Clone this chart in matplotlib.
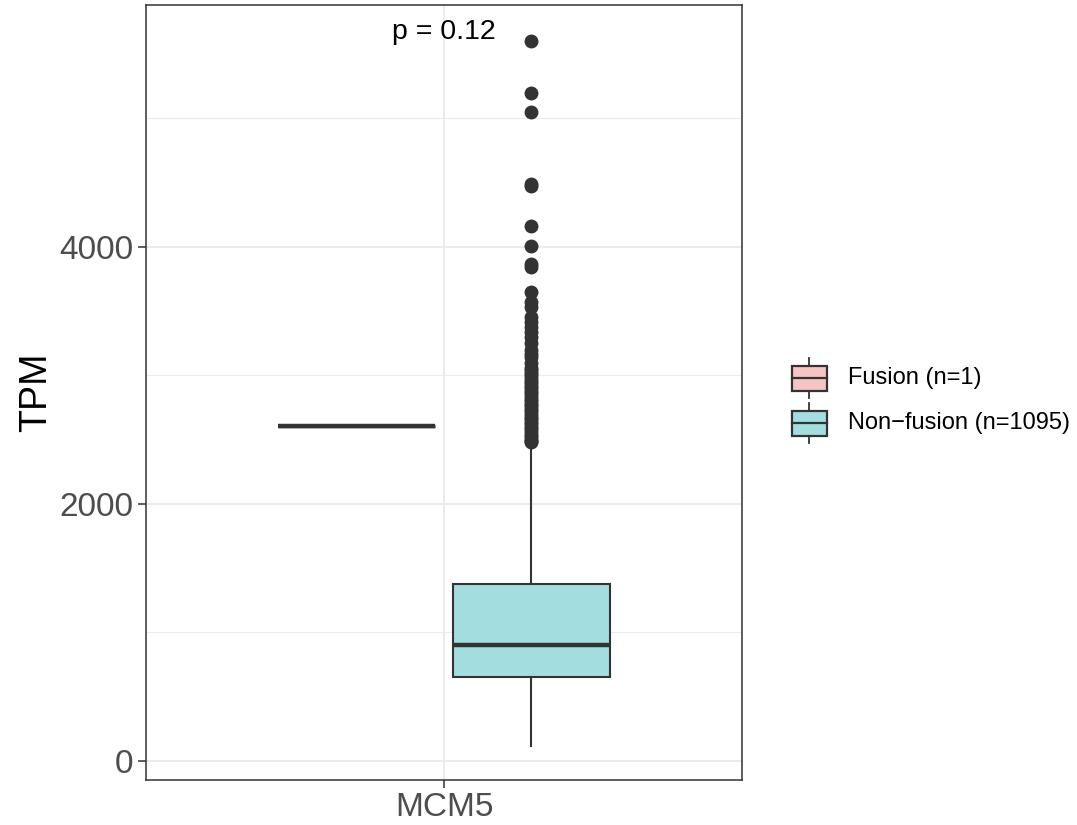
import matplotlib
matplotlib.use("Agg")
import matplotlib.pyplot as plt
from matplotlib.patches import Rectangle

plt.rcParams['font.family'] = ['Liberation Sans', 'DejaVu Sans']

# data
gene = "MCM5"
groups = ["Fusion (n=1)", "Non\u2212fusion (n=1095)"]
fills = ["#F4C5C3", "#A4DDE0"]

fusion_value = 2607

# box stats for the non-fusion group
nf_whislo = 120
nf_q1 = 653
nf_med = 900
nf_q3 = 1375
nf_whishi = 2450
nf_outliers = [5603, 5198, 5051, 4490, 4475, 4163, 4008, 3868, 3844, 3650,
               3572, 3533, 3455, 3420, 3380, 3340, 3300, 3250, 3200, 3170,
               3140, 3100, 3060, 3040, 3020, 3000, 2980, 2960, 2940, 2920,
               2900, 2880, 2860, 2840, 2820, 2800, 2780, 2760, 2740, 2720,
               2700, 2680, 2660, 2640, 2620, 2600, 2580, 2560, 2540, 2520,
               2500, 2490, 2480]

p_text = "p = 0.12"

W, H = 1077, 825
fig = plt.figure(figsize=(W / 100, H / 100), dpi=100)
ax = fig.add_axes([146 / W, 1 - 780 / H, (742 - 146) / W, (780 - 5) / H])

edge = "#333333"
stats = [
    dict(whislo=fusion_value, q1=fusion_value, med=fusion_value,
         q3=fusion_value, whishi=fusion_value, fliers=[]),
    dict(whislo=nf_whislo, q1=nf_q1, med=nf_med, q3=nf_q3,
         whishi=nf_whishi, fliers=nf_outliers),
]
pos = [-0.176, 0.176]
bp = ax.bxp(stats, positions=pos, widths=0.316, patch_artist=True,
            showcaps=False, manage_ticks=False,
            boxprops=dict(edgecolor=edge, linewidth=1.5),
            whiskerprops=dict(color=edge, linewidth=1.5),
            medianprops=dict(color=edge, linewidth=3.2, solid_capstyle='butt'),
            flierprops=dict(marker='o', markerfacecolor=edge, markeredgecolor=edge,
                            markersize=9, linestyle='none'))
for patch, c in zip(bp['boxes'], fills):
    patch.set_facecolor(c)
    patch.set_zorder(2)
for m in bp['medians']:
    m.set_zorder(3)
# the single fusion sample collapses to a thick line
bp['boxes'][0].set_linewidth(2.5)

ax.set_xlim(-0.6, 0.6)
ax.set_ylim(-148, 5883)
ax.set_xticks([0])
ax.set_xticklabels([gene], fontsize=25)
ax.set_yticks([0, 2000, 4000])
ax.set_yticks([1000, 3000, 5000], minor=True)
ax.grid(True, which='major', color="#EBEBEB", linewidth=1.5, zorder=0)
ax.grid(True, which='minor', axis='y', color="#EBEBEB", linewidth=0.8, zorder=0)
ax.set_axisbelow(True)
ax.tick_params(axis='both', which='major', length=6, width=1.1, color=edge,
               labelsize=24, labelcolor="#4D4D4D", pad=3)
ax.tick_params(axis='y', which='minor', length=0)
for s in ax.spines.values():
    s.set_color(edge)
    s.set_linewidth(1.1)
ax.set_ylabel("TPM", fontsize=27, color="black", labelpad=4)

ax.text(0, 5673, p_text, ha='center', va='center', fontsize=20.5)

# legend drawn in pixel coordinates
lg = fig.add_axes([0, 0, 1, 1])
lg.set_xlim(0, W)
lg.set_ylim(H, 0)
lg.axis('off')
for i, (lab, c) in enumerate(zip(groups, fills)):
    cy = 378 + i * 45
    lg.plot([809, 809], [cy - 20, cy + 20], color=edge, linewidth=1.3)
    lg.add_patch(Rectangle((792, cy - 12.5), 35, 25, facecolor=c, edgecolor=edge,
                           linewidth=1.6, zorder=3))
    lg.plot([792, 827], [cy, cy], color=edge, linewidth=1.6, zorder=4)
    lg.text(848, cy, lab, ha='left', va='center', fontsize=17)

fig.savefig("out.png", dpi=100)
